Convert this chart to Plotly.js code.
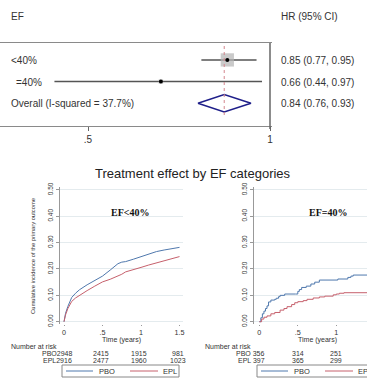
<!DOCTYPE html>
<html>
<head>
<meta charset="utf-8">
<script src="https://cdn.plot.ly/plotly-3.0.1.min.js"></script>
<style>html,body{margin:0;padding:0;background:#fff;}#chart{width:367px;height:380px;}</style>
</head>
<body>
<div id="chart"></div>
<script>
// ---------- Forest plot data ----------
const forestGroups = ['<40%', '=40%', 'Overall (I-squared = 37.7%)'];
const forestHR = [0.85, 0.66, 0.84];
const forestLo = [0.77, 0.44, 0.76];
const forestHi = [0.95, 0.97, 0.93];
const forestWeight = [90, 10];
const forestRowY = [3, 2, 1];
const forestTicks = [0.5, 1];
const forestTickText = ['.5', '1'];

// ---------- KM panel 1 (EF<40%) ----------
const km1Time = [0, 0.02, 0.05, 0.1, 0.15, 0.2, 0.3, 0.4, 0.5, 0.6, 0.7, 0.75, 0.8, 0.9, 1.0, 1.1, 1.2, 1.3, 1.4, 1.5];
const km1PBO  = [0, 0.032, 0.058, 0.092, 0.108, 0.121, 0.140, 0.158, 0.173, 0.196, 0.220, 0.226, 0.228, 0.237, 0.247, 0.257, 0.266, 0.272, 0.278, 0.282];
const km1EPL  = [0, 0.026, 0.050, 0.077, 0.090, 0.100, 0.118, 0.135, 0.151, 0.161, 0.173, 0.180, 0.189, 0.199, 0.206, 0.215, 0.223, 0.230, 0.237, 0.247];

// ---------- KM panel 2 (EF=40%) ----------
const km2TimePBO = [0, 0.02, 0.04, 0.06, 0.08, 0.1, 0.12, 0.15, 0.2, 0.22, 0.25, 0.27, 0.33, 0.47, 0.5, 0.52, 0.55, 0.61, 0.67, 0.72, 0.78, 1.02, 1.15, 1.19, 1.22, 1.5];
const km2PBO     = [0, 0.015, 0.030, 0.040, 0.050, 0.060, 0.075, 0.082, 0.085, 0.089, 0.095, 0.100, 0.105, 0.105, 0.115, 0.122, 0.130, 0.135, 0.143, 0.150, 0.158, 0.162, 0.168, 0.173, 0.177, 0.177];
const km2TimeEPL = [0, 0.03, 0.06, 0.1, 0.15, 0.2, 0.27, 0.32, 0.36, 0.42, 0.46, 0.5, 0.57, 0.62, 0.7, 0.78, 0.85, 0.96, 1.0, 1.04, 1.1, 1.5];
const km2EPL     = [0, 0.010, 0.017, 0.022, 0.030, 0.035, 0.044, 0.050, 0.057, 0.065, 0.072, 0.076, 0.080, 0.085, 0.090, 0.094, 0.097, 0.102, 0.105, 0.108, 0.110, 0.110];

// ---------- Tick labels / risk tables ----------
const kmXTicks = [0, 0.5, 1, 1.5];
const kmXTickText = ['0', '.5', '1', '1.5'];
const riskTimes = [0.5, 1, 1.5];
const risk1Labels = ['PBO2948', 'EPL2916'];
const risk1PBO = ['2415', '1915', '981'];
const risk1EPL = ['2477', '1960', '1023'];
const risk2Labels = ['PBO 356', 'EPL 397'];
const risk2PBO = ['314', '251', ''];
const risk2EPL = ['365', '299', ''];
const seriesNames = ['PBO', 'EPL'];

// ---------- helpers ----------
const W = 367, H = 380;
const px = x => x / W;
const py = y => 1 - y / H;
const BLUE = '#4f78ad', RED = '#c6606c';
const SANS = 'Liberation Sans, Arial, sans-serif';
const SERIF = 'Liberation Serif, Times New Roman, serif';
const TXT = '#333333';

const traces = [];
// CI lines
for (let i = 0; i < 2; i++) {
  traces.push({x: [forestLo[i], forestHi[i]], y: [forestRowY[i], forestRowY[i]], xaxis: 'x', yaxis: 'y',
    mode: 'lines', line: {color: '#555555', width: 1.5}, hoverinfo: 'skip', showlegend: false});
}
// weight boxes
traces.push({x: forestHR.slice(0, 2), y: forestRowY.slice(0, 2), xaxis: 'x', yaxis: 'y', mode: 'markers',
  marker: {symbol: 'square', size: forestWeight.map(w => Math.sqrt(w) * 1.4), color: '#b4b4b4', line: {width: 0}},
  showlegend: false, hoverinfo: 'skip'});
// point estimates
traces.push({x: forestHR.slice(0, 2), y: forestRowY.slice(0, 2), xaxis: 'x', yaxis: 'y', mode: 'markers',
  marker: {symbol: 'circle', size: 4, color: '#000000'}, showlegend: false, hoverinfo: 'skip'});
// diamond
const dh = 0.4;
traces.push({x: [forestLo[2], forestHR[2], forestHi[2], forestHR[2], forestLo[2]],
  y: [forestRowY[2], forestRowY[2] + dh, forestRowY[2], forestRowY[2] - dh, forestRowY[2]],
  xaxis: 'x', yaxis: 'y', mode: 'lines', line: {color: '#1f1f8a', width: 1.5}, showlegend: false, hoverinfo: 'skip'});

// KM curves
traces.push({x: km1Time, y: km1PBO, xaxis: 'x2', yaxis: 'y2', mode: 'lines', line: {color: BLUE, width: 1}, name: seriesNames[0], showlegend: false});
traces.push({x: km1Time, y: km1EPL, xaxis: 'x2', yaxis: 'y2', mode: 'lines', line: {color: RED, width: 1}, name: seriesNames[1], showlegend: false});
traces.push({x: km2TimePBO, y: km2PBO, xaxis: 'x3', yaxis: 'y3', mode: 'lines', line: {color: BLUE, width: 1, shape: 'hv'}, name: seriesNames[0], showlegend: false});
traces.push({x: km2TimeEPL, y: km2EPL, xaxis: 'x3', yaxis: 'y3', mode: 'lines', line: {color: RED, width: 1, shape: 'hv'}, name: seriesNames[1], showlegend: false});

const kmY = {
  range: [-0.0087, 0.511], domain: [py(324), py(187)],
  showline: true, linecolor: '#999999', linewidth: 1,
  ticks: 'outside', ticklen: 3, tickcolor: '#999999', tickwidth: 1,
  tickvals: [0, 0.1, 0.2, 0.3, 0.4, 0.5], tickformat: '.2f', tickangle: -90,
  tickfont: {family: SANS, size: 6.5, color: TXT},
  showgrid: true, gridcolor: '#e4ebee', gridwidth: 1, zeroline: false
};
const kmX = {
  showline: false, ticks: 'outside', ticklen: 1, tickcolor: '#999999',
  tickvals: kmXTicks, ticktext: kmXTickText, tickfont: {family: SANS, size: 7.2, color: TXT},
  showgrid: false, zeroline: false
};

const layout = {
  width: W, height: H, margin: {l: 0, r: 0, t: 0, b: 0}, paper_bgcolor: '#ffffff', plot_bgcolor: 'rgba(0,0,0,0)',
  showlegend: false,
  xaxis: {domain: [0, px(272)], anchor: 'y', type: 'log', range: [-0.4466, 0.0033],
    showline: true, mirror: true, linecolor: '#8a8a8a', linewidth: 1,
    ticks: 'outside', ticklen: 4, tickcolor: '#666666', tickvals: forestTicks, ticktext: forestTickText,
    tickfont: {family: SANS, size: 10, color: TXT}, showgrid: false, zeroline: false},
  yaxis: {domain: [py(126), py(43)], anchor: 'x', range: [-0.046, 3.78], visible: false},
  xaxis2: Object.assign({}, kmX, {domain: [px(60), px(183)], anchor: 'y2', range: [-0.052, 1.545]}),
  yaxis2: Object.assign({}, kmY, {anchor: 'x2'}),
  xaxis3: Object.assign({}, kmX, {domain: [px(254), 1], anchor: 'y3', range: [-0.069, 1.399]}),
  yaxis3: Object.assign({}, kmY, {anchor: 'x3'}),
  shapes: [
    {type: 'line', xref: 'x', yref: 'paper', x0: 1, x1: 1, y0: py(129), y1: py(43), line: {color: '#666666', width: 1.5}},
    {type: 'line', xref: 'x', yref: 'y', x0: forestHR[2], x1: forestHR[2], y0: 0.46, y1: 3.69, line: {color: '#d4868e', width: 1, dash: 'dot'}}
  ],
  annotations: []
};

const A = layout.annotations;
function txt(text, x, y, opts) {
  A.push(Object.assign({text: text, x: px(x), y: py(y), xref: 'paper', yref: 'paper', showarrow: false,
    xanchor: 'left', yanchor: 'middle', borderpad: 0, font: {family: SANS, size: 10, color: TXT}}, opts || {}));
}
// forest texts
txt('EF', 10, 16);
txt('HR (95% CI)', 280, 16);
const labelX = [10, 15, 10];
forestGroups.forEach((g, i) => {
  const yy = [60, 82, 104][i];
  txt(g, labelX[i], yy);
  txt(forestHR[i].toFixed(2) + ' (' + forestLo[i].toFixed(2) + ', ' + forestHi[i].toFixed(2) + ')', 280, yy);
});
// main title
txt('Treatment effect by EF categories', 193.5, 173, {xanchor: 'center', font: {family: SANS, size: 13, color: '#222222'}});
// KM panel labels
A.push({text: '<b>EF<40%</b>', xref: 'x2', yref: 'y2', x: 0.86, y: 0.4, showarrow: false, yshift: 4,
  font: {family: SERIF, size: 10, color: '#111111'}});
A.push({text: '<b>EF=40%</b>', xref: 'x3', yref: 'y3', x: 0.89, y: 0.4, showarrow: false, yshift: 4,
  font: {family: SERIF, size: 10, color: '#111111'}});
// y title
txt('Cumulative incidence of the primary outcome', 33, 256, {xanchor: 'center', textangle: -90, font: {family: SANS, size: 5.8, color: TXT}});
// x titles
A.push({text: 'Time (years)', xref: 'x2', yref: 'paper', x: 0.75, y: py(340), showarrow: false, yanchor: 'middle', borderpad: 0, font: {family: SANS, size: 7, color: TXT}});
A.push({text: 'Time (years)', xref: 'x3', yref: 'paper', x: 0.75, y: py(340), showarrow: false, yanchor: 'middle', borderpad: 0, font: {family: SANS, size: 7, color: TXT}});

// risk tables
const rf = {family: SANS, size: 7, color: TXT};
txt('Number at risk', 10, 346, {font: rf});
txt('Number at risk', 204, 346, {font: rf});
txt(risk1Labels[0], 73, 353, {xanchor: 'right', font: rf});
txt(risk1Labels[1], 73, 360, {xanchor: 'right', font: rf});
txt(risk2Labels[0], 266, 353, {xanchor: 'right', font: rf});
txt(risk2Labels[1], 266, 360, {xanchor: 'right', font: rf});
riskTimes.forEach((t, i) => {
  A.push({text: risk1PBO[i], xref: 'x2', yref: 'paper', x: t, y: py(353), xshift: -2, showarrow: false, yanchor: 'middle', borderpad: 0, font: rf});
  A.push({text: risk1EPL[i], xref: 'x2', yref: 'paper', x: t, y: py(360), xshift: -2, showarrow: false, yanchor: 'middle', borderpad: 0, font: rf});
  if (risk2PBO[i]) A.push({text: risk2PBO[i], xref: 'x3', yref: 'paper', x: t, y: py(353), showarrow: false, yanchor: 'middle', borderpad: 0, font: rf});
  if (risk2EPL[i]) A.push({text: risk2EPL[i], xref: 'x3', yref: 'paper', x: t, y: py(360), showarrow: false, yanchor: 'middle', borderpad: 0, font: rf});
});

// legends (drawn as boxes)
function legendBox(x0) {
  layout.shapes.push({type: 'rect', xref: 'paper', yref: 'paper', x0: px(x0), x1: px(x0 + 117), y0: py(377), y1: py(365),
    line: {color: '#888888', width: 1}, fillcolor: 'rgba(0,0,0,0)'});
  layout.shapes.push({type: 'line', xref: 'paper', yref: 'paper', x0: px(x0 + 4), x1: px(x0 + 31), y0: py(371), y1: py(371), line: {color: BLUE, width: 1}});
  layout.shapes.push({type: 'line', xref: 'paper', yref: 'paper', x0: px(x0 + 68), x1: px(x0 + 96), y0: py(371), y1: py(371), line: {color: RED, width: 1}});
  txt(seriesNames[0], x0 + 45, 371, {xanchor: 'center', font: {family: SANS, size: 7.5, color: TXT}});
  txt(seriesNames[1], x0 + 100, 371, {xanchor: 'left', font: {family: SANS, size: 7.5, color: TXT}});
}
legendBox(62);
legendBox(257);

Plotly.newPlot('chart', traces, layout, {staticPlot: true, displayModeBar: false});
</script>
</body>
</html>
